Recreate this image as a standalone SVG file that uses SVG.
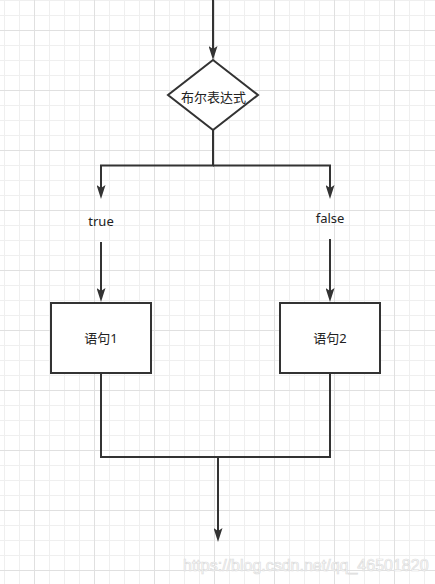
<svg xmlns="http://www.w3.org/2000/svg" width="435" height="584" viewBox="0 0 435 584">
  <style>
    .ln { fill: none; stroke: #333333; stroke-width: 2; }
    .shape { fill: #ffffff; stroke: #333333; stroke-width: 2; }
    .t { font-family: "Noto Sans", "Noto Sans CJK SC", sans-serif; font-size: 13px; fill: #222222; text-anchor: middle; }
    .wm { font-family: "Liberation Sans", Arial, sans-serif; font-size: 16px; fill: #ffffff; stroke: #dcdcdc; stroke-width: 0.7; }
  </style>
  <defs>
    <pattern id="minor" patternUnits="userSpaceOnUse" x="4" y="0" width="15" height="15">
      <path d="M0.5 0 V15 M0 0.5 H15" fill="none" stroke="#efefef" stroke-width="1"/>
    </pattern>
    <pattern id="major" patternUnits="userSpaceOnUse" x="34" y="30" width="60" height="60">
      <path d="M0.5 0 V60 M0 0.5 H60" fill="none" stroke="#e0e0e0" stroke-width="1"/>
    </pattern>
    <marker id="arr" viewBox="0 0 14 9" refX="3" refY="4.5" markerWidth="14" markerHeight="9" markerUnits="userSpaceOnUse" orient="auto">
      <path d="M0,0 L14,4.5 L0,9 L3,4.5 z" fill="#333333"/>
    </marker>
  </defs>

  <rect width="435" height="584" fill="#ffffff"/>
  <rect width="435" height="584" fill="url(#minor)"/>
  <rect width="435" height="584" fill="url(#major)"/>

  <g id="connectors">
    <path class="ln" d="M213,0 V49" marker-end="url(#arr)"/>
    <path class="ln" d="M213,130 V165.5 H101 V188" marker-end="url(#arr)"/>
    <path class="ln" d="M213,165.5 H330 V188" marker-end="url(#arr)"/>
    <path class="ln" d="M101,242 V291" marker-end="url(#arr)"/>
    <path class="ln" d="M330,239 V291" marker-end="url(#arr)"/>
    <path class="ln" d="M101,373 V457 H330 V373"/>
    <path class="ln" d="M218,457 V531" marker-end="url(#arr)"/>
    <text class="t" x="101" y="226">true</text>
    <text class="t" x="330" y="223">false</text>
  </g>

  <g id="decision">
    <polygon class="shape" points="213,60 258,95 213,130 168,95"/>
    <text class="t" x="213.5" y="101.5">布尔表达式</text>
  </g>

  <g id="stmt1">
    <rect class="shape" x="51" y="303" width="100" height="70"/>
    <text class="t" x="101" y="343">语句1</text>
  </g>

  <g id="stmt2">
    <rect class="shape" x="280" y="303" width="100" height="70"/>
    <text class="t" x="330" y="343">语句2</text>
  </g>

  <text class="wm" x="183" y="571">https://blog.csdn.net/qq_46501820</text>
</svg>
